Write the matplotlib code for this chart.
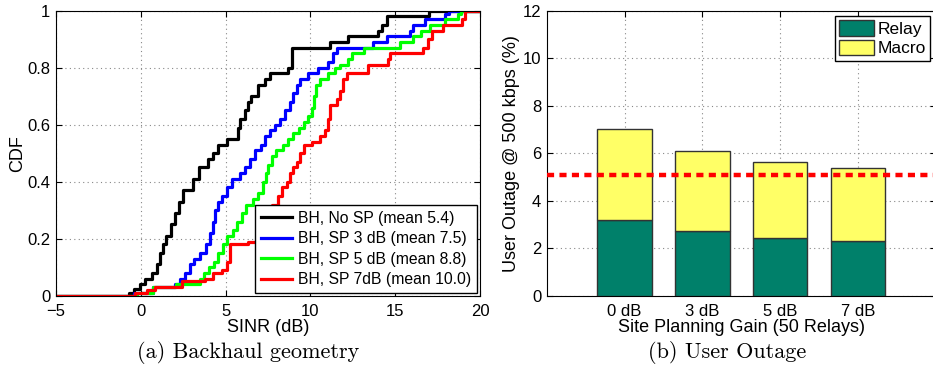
import matplotlib
matplotlib.use("Agg")
import matplotlib.pyplot as plt
import numpy as np

plt.rcParams['font.family'] = ['Liberation Sans', 'DejaVu Sans']

# CDF curves (step points): SINR in dB, CDF level after the step
sinr_nosp = [-5, -0.68, -0.38, -0.05, 0.25, 0.64, 0.94, 1.13, 1.33, 1.47, 1.76, 2.02, 2.27, 2.51,
             3.1, 3.43, 3.98, 4.28, 4.57, 5.06, 5.71, 5.85, 6.14, 6.34, 6.5, 6.93, 7.3, 7.6,
             8.7, 8.9, 11.15, 12.24, 14.0, 14.2, 14.5, 17.0, 20]
cdf_nosp = [0, 0.01, 0.025, 0.04, 0.06, 0.08, 0.11, 0.15, 0.18, 0.21, 0.25, 0.29, 0.33, 0.37,
            0.41, 0.45, 0.48, 0.50, 0.53, 0.55, 0.59, 0.62, 0.65, 0.68, 0.70, 0.74, 0.76, 0.78,
            0.80, 0.87, 0.89, 0.91, 0.93, 0.95, 0.98, 1.0, 1.0]

sinr_sp3 = [-5, -0.38, 0.7, 2.0, 2.3, 2.6, 2.9, 3.15, 3.5, 3.85, 4.1, 4.24, 4.38, 4.57, 4.77,
            5.06, 5.36, 5.85, 6.14, 6.44, 6.73, 7.1, 7.3, 7.6, 7.9, 8.2, 8.5, 8.8, 8.99, 9.2,
            9.4, 9.88, 10.47, 11.06, 11.35, 11.55, 13.7, 14.5, 15.87, 16.07, 16.76, 17.93, 18.2, 20]
cdf_sp3 = [0, 0.01, 0.03, 0.04, 0.06, 0.08, 0.11, 0.13, 0.15, 0.18, 0.22, 0.26, 0.30, 0.33, 0.35,
           0.38, 0.41, 0.43, 0.45, 0.48, 0.51, 0.53, 0.56, 0.58, 0.60, 0.62, 0.65, 0.68, 0.71, 0.74,
           0.76, 0.78, 0.80, 0.82, 0.85, 0.87, 0.89, 0.91, 0.93, 0.95, 0.97, 0.99, 1.0, 1.0]

sinr_sp5 = [-5, -0.25, 0.7, 2.1, 3.5, 3.7, 4.0, 4.3, 4.57, 4.83, 5.06, 5.46, 5.7, 5.95, 6.2,
            6.64, 6.93, 7.22, 7.38, 7.52, 7.72, 8.0, 8.4, 8.7, 9.0, 9.3, 9.6, 9.88, 10.07, 10.2,
            10.33, 10.56, 11.06, 11.45, 11.75, 12.24, 12.45, 13.17, 15.3, 16.07, 16.5, 17.05,
            17.93, 18.7, 18.9, 20]
cdf_sp5 = [0, 0.01, 0.03, 0.04, 0.06, 0.08, 0.10, 0.12, 0.15, 0.18, 0.21, 0.23, 0.26, 0.29, 0.32,
           0.34, 0.36, 0.40, 0.43, 0.46, 0.49, 0.51, 0.53, 0.55, 0.57, 0.59, 0.61, 0.63, 0.66, 0.70,
           0.74, 0.76, 0.78, 0.80, 0.81, 0.83, 0.85, 0.87, 0.89, 0.91, 0.93, 0.95,
           0.97, 0.99, 1.0, 1.0]

sinr_sp7 = [-5, -0.34, 0.35, 0.84, 2.41, 3.79, 4.28, 4.77, 5.06, 5.26, 6.34, 6.83, 7.0, 7.2, 7.4,
            7.6, 7.72, 8.1, 8.3, 8.6, 8.8, 9.0, 9.2, 9.4, 9.6, 10.07, 10.56, 10.86, 11.06, 11.15,
            11.55, 11.75, 11.94, 12.14, 13.4, 14.6, 14.7, 16.65, 16.95, 17.15, 17.84, 18.92, 19.1, 20]
cdf_sp7 = [0, 0.01, 0.02, 0.03, 0.05, 0.06, 0.08, 0.09, 0.12, 0.18, 0.19, 0.20, 0.22, 0.25, 0.28,
           0.30, 0.32, 0.35, 0.38, 0.40, 0.43, 0.45, 0.47, 0.50, 0.53, 0.54, 0.56, 0.58, 0.62, 0.67,
           0.69, 0.72, 0.76, 0.78, 0.81, 0.83, 0.85, 0.87, 0.90, 0.93, 0.95, 0.97, 1.0, 1.0]

curve_labels = ["BH, No SP (mean 5.4)", "BH, SP 3 dB (mean 7.5)",
                "BH, SP 5 dB (mean 8.8)", "BH, SP 7dB (mean 10.0)"]
curve_colors = ["#000000", "#0000ff", "#00ff00", "#ff0000"]

# Outage bars
gains = ["0 dB", "3 dB", "5 dB", "7 dB"]
relay_outage = [3.17, 2.74, 2.44, 2.30]
total_outage = [7.0, 6.1, 5.63, 5.36]
macro_outage = [t - r for t, r in zip(total_outage, relay_outage)]
target = 5.07

fig = plt.figure(figsize=(9.33, 3.77), dpi=100)

# ---- (a) CDF
ax1 = fig.add_axes([56 / 933, 1 - 295.7 / 377, 424 / 933, 285 / 377])
curves = [(sinr_nosp, cdf_nosp), (sinr_sp3, cdf_sp3), (sinr_sp5, cdf_sp5), (sinr_sp7, cdf_sp7)]
for (x, y), lab, c in zip(curves, curve_labels, curve_colors):
    ax1.step(x, y, where="post", color=c, lw=2.3, label=lab)
ax1.set_xlim(-5, 20)
ax1.set_ylim(0, 1)
ax1.set_xticks([-5, 0, 5, 10, 15, 20])
ax1.set_xticklabels(["\u22125", "0", "5", "10", "15", "20"])
ax1.set_yticks([0, 0.2, 0.4, 0.6, 0.8, 1])
ax1.set_yticklabels(["0", "0.2", "0.4", "0.6", "0.8", "1"])
ax1.set_xlabel("SINR (dB)", fontsize=13, labelpad=0)
ax1.set_ylabel("CDF", fontsize=13, labelpad=1)
ax1.grid(True, ls=(0, (1, 3)), color="#888888", lw=0.8)
ax1.tick_params(direction="in", top=True, right=True, labelsize=12, length=4)
ax1.tick_params(axis="x", pad=6)
ax1.tick_params(axis="y", pad=4)
leg1 = ax1.legend(loc="lower right", fontsize=11.3, handlelength=2.0, borderaxespad=0.2,
                  labelspacing=0.35, handletextpad=0.4, borderpad=0.35, fancybox=False,
                  edgecolor="black", framealpha=1)
leg1.get_frame().set_linewidth(1.0)

# ---- (b) outage bars
ax2 = fig.add_axes([546.7 / 933, 1 - 295.7 / 377, 389 / 933, 285 / 377])
xpos = np.arange(1, len(gains) + 1)
ax2.bar(xpos, relay_outage, width=0.7, color="#00806a", edgecolor="#333333", lw=1,
        label="Relay", zorder=3)
ax2.bar(xpos, macro_outage, width=0.7, bottom=relay_outage, color="#ffff66",
        edgecolor="#333333", lw=1, label="Macro", zorder=3)
ax2.axhline(target, color="#ff0000", lw=3.2, ls=(0, (1.6, 1.2)), zorder=4)
ax2.set_xlim(0, 5)
ax2.set_ylim(0, 12)
ax2.set_xticks(xpos)
ax2.set_xticklabels(gains)
ax2.set_yticks(range(0, 13, 2))
ax2.set_xlabel("Site Planning Gain (50 Relays)", fontsize=13, labelpad=0)
ax2.set_ylabel("User Outage @ 500 kbps (%)", fontsize=13, labelpad=2)
ax2.grid(True, ls=(0, (1, 3)), color="#888888", lw=0.8, zorder=0)
ax2.set_axisbelow(True)
ax2.tick_params(direction="in", top=True, right=True, labelsize=12, length=4)
ax2.tick_params(axis="x", pad=6)
ax2.tick_params(axis="y", pad=4)
leg2 = ax2.legend(loc="upper right", bbox_to_anchor=(930 / 933, 1 - 16 / 377),
                  bbox_transform=fig.transFigure, borderaxespad=0, fontsize=12.5,
                  handlelength=2.0, handleheight=1.0, labelspacing=0.15, handletextpad=0.2,
                  borderpad=0.25, fancybox=False, edgecolor="black", framealpha=1)
leg2.get_frame().set_linewidth(1.0)

# captions
fig.text(248 / 933, 1 - 353 / 377, "(a) Backhaul geometry", ha="center", va="center",
         fontsize=16, family="cmr10")
fig.text(727 / 933, 1 - 353 / 377, "(b) User Outage", ha="center", va="center",
         fontsize=16, family="cmr10")

fig.savefig("out.png", dpi=100)
